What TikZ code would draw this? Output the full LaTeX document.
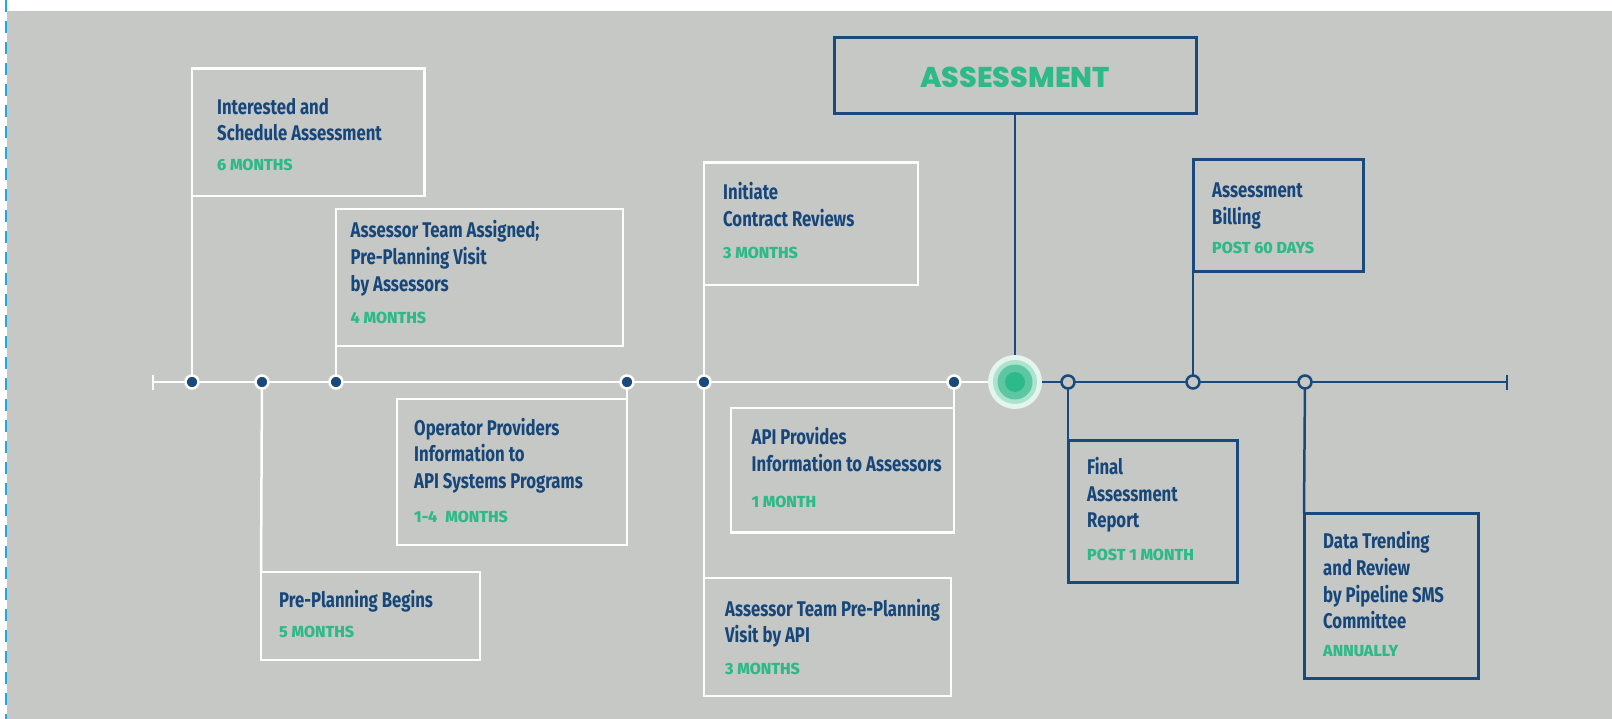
\documentclass[tikz,border=0pt]{standalone}
\usepackage{fontspec}
\newfontfamily\bodyf{Fira Sans}[FakeStretch=0.785]
\newfontfamily\monf{Fira Sans ExtraBold}
\newfontfamily\titf{Poppins ExtraBold}
\definecolor{bggray}{HTML}{C6C8C5}
\definecolor{navy}{HTML}{1A4A7B}
\definecolor{txtnavy}{HTML}{17477A}
\definecolor{tgreen}{HTML}{2DB98A}
\definecolor{dashblue}{HTML}{1BA9EE}
\definecolor{ring1}{HTML}{E4F5EF}
\definecolor{ring2}{HTML}{ADE3CE}
\definecolor{ring3}{HTML}{5DC6A2}
\pgfdeclarelayer{bglayer}
\pgfdeclarelayer{linelayer}
\pgfsetlayers{bglayer,linelayer,main}
\tikzset{
  wbox/.style={draw=white, line width=2.5pt, anchor=north west, inner sep=0pt, outer sep=0pt},
  nbox/.style={draw=navy, line width=3pt, anchor=north west, inner sep=0pt, outer sep=0pt},
  lbl/.style={anchor=base west, inner sep=0pt, text=txtnavy, font=\bodyf\bfseries\fontsize{21.3}{26}\selectfont},
  mon/.style={anchor=base west, inner sep=0pt, text=tgreen, font=\monf\fontsize{16}{19}\selectfont},
  fdot/.style={circle, fill=navy, draw=white, line width=2.5pt, minimum size=13pt, inner sep=0pt, outer sep=0pt},
  hdot/.style={circle, fill=bggray, draw=navy, line width=2.5pt, minimum size=13pt, inner sep=0pt, outer sep=0pt},
  wline/.style={draw=white, line width=2.5pt},
  nline/.style={draw=navy, line width=2.5pt},
}
\begin{document}
\begin{tikzpicture}[x=1pt,y=-1pt]
\useasboundingbox (0,0) rectangle (1612,719);
\begin{pgfonlayer}{bglayer}
  \fill[white] (0,0) rectangle (1612,719);
  \fill[bggray] (7,11) rectangle (1612,719);
  \draw[dashblue, line width=2.5pt, dash pattern=on 12pt off 9pt] (6,0) -- (6,719);
\end{pgfonlayer}

% timeline end points
\coordinate (tl) at (153,382);
\coordinate (tr) at (1507,382);

% boxes
\node[wbox, minimum width=232.5pt, minimum height=127.5pt] (b1) at (192,68.5) {};
\node[wbox, minimum width=287pt, minimum height=137pt] (b2) at (336,209) {};
\node[wbox, minimum width=230pt, minimum height=146pt] (b3) at (397,399) {};
\node[wbox, minimum width=219pt, minimum height=88pt] (b4) at (261,572) {};
\node[wbox, minimum width=214pt, minimum height=122.5pt] (b5) at (704,162.5) {};
\node[wbox, minimum width=223pt, minimum height=124.5pt] (b6) at (731,408) {};
\node[wbox, minimum width=247pt, minimum height=118pt] (b7) at (704,578) {};
\node[nbox, minimum width=362pt, minimum height=76pt] (b8) at (834,38) {};
\node[nbox, minimum width=170pt, minimum height=112pt] (b9) at (1193,160) {};
\node[nbox, minimum width=169pt, minimum height=142pt] (b10) at (1068,440) {};
\node[nbox, minimum width=174pt, minimum height=165.5pt] (b11) at (1304,513) {};

% dots
\node[fdot] (d1) at (192,382) {};
\node[fdot] (d2) at (262,382) {};
\node[fdot] (d3) at (336,382) {};
\node[fdot] (d4) at (627,382) {};
\node[fdot] (d5) at (704,382) {};
\node[fdot] (d6) at (954,382) {};
\node[circle, fill=ring1, minimum size=54pt, inner sep=0pt, outer sep=0pt] (bc) at (1015,382) {};
\fill[ring2] (bc.center) circle (22pt);
\fill[ring3] (bc.center) circle (17.5pt);
\fill[tgreen] (bc.center) circle (10pt);
\node[hdot] (h1) at (1068,382) {};
\node[hdot] (h2) at (1193,382) {};
\node[hdot] (h3) at (1305,382) {};

% connectors
\begin{pgfonlayer}{linelayer}
  \draw[wline] (tl) -- (bc.center);
  \draw[wline] ([yshift=7.5pt]tl) -- ([yshift=-7.5pt]tl);
  \draw[nline] (bc.center) -- (tr);
  \draw[nline] ([yshift=7.5pt]tr) -- ([yshift=-7.5pt]tr);
  \draw[wline] (d1.center) -- (b1.south west);
  \draw[wline] (d3.center) -- (b2.south west);
  \draw[wline] (d4.center) -- (b3.north east);
  \draw[wline] (d2.center) -- (b4.north west);
  \draw[wline] (d5.center) -- (b5.south west);
  \draw[wline] (d6.center) -- (b6.north east);
  \draw[wline] (d5.center) -- (b7.north west);
  \draw[nline] (bc.center) -- (b8.south);
  \draw[nline] (h2.center) -- (b9.south west);
  \draw[nline] (h1.center) -- (b10.north west);
  \draw[nline] (h3.center) -- (b11.north west);
\end{pgfonlayer}

% texts
\node[lbl] (t1a) at (217,115) {Interested and};
\node[lbl] (t1b) at (217,141) {Schedule Assessment};
\node[mon] (m1) at (217,171) {6 MONTHS};

\node[lbl] (t2a) at (350.5,238) {Assessor Team Assigned;};
\node[lbl] (t2b) at (350.5,265) {Pre-Planning Visit};
\node[lbl] (t2c) at (350.5,292) {by Assessors};
\node[mon] (m2) at (350.5,324) {4 MONTHS};

\node[lbl] (t3a) at (414,435) {Operator Providers};
\node[lbl] (t3b) at (414,461) {Information to};
\node[lbl] (t3c) at (414,488) {API Systems Programs};
\node[mon] (m3) at (414,522) {1-4\enspace MONTHS};

\node[lbl] (t4a) at (279,607) {Pre-Planning Begins};
\node[mon] (m4) at (279,637) {5 MONTHS};

\node[lbl] (t5a) at (723,200) {Initiate};
\node[lbl] (t5b) at (723,227) {Contract Reviews};
\node[mon] (m5) at (723,259) {3 MONTHS};

\node[lbl] (t6a) at (751.5,444) {API Provides};
\node[lbl] (t6b) at (751.5,471) {Information to Assessors};
\node[mon] (m6) at (751.5,507) {1 MONTH};

\node[lbl] (t7a) at (725,616) {Assessor Team Pre-Planning};
\node[lbl] (t7b) at (725,642) {Visit by API};
\node[mon] (m7) at (725,674) {3 MONTHS};

\node[anchor=base, inner sep=0pt, text=tgreen, font=\titf\fontsize{28.6}{30}\selectfont] (t8) at (1015,88) {ASSESSMENT};

\node[lbl] (t9a) at (1212,198) {Assessment};
\node[lbl] (t9b) at (1212,225) {Billing};
\node[mon] (m9) at (1212,254) {POST 60 DAYS};

\node[lbl] (t10a) at (1087,474) {Final};
\node[lbl] (t10b) at (1087,501) {Assessment};
\node[lbl] (t10c) at (1087,527) {Report};
\node[mon] (m10) at (1087,560) {POST 1 MONTH};

\node[lbl] (t11a) at (1323,548) {Data Trending};
\node[lbl] (t11b) at (1323,575) {and Review};
\node[lbl] (t11c) at (1323,602) {by Pipeline SMS};
\node[lbl] (t11d) at (1323,628) {Committee};
\node[mon] (m11) at (1323,656) {ANNUALLY};
\end{tikzpicture}
\end{document}
